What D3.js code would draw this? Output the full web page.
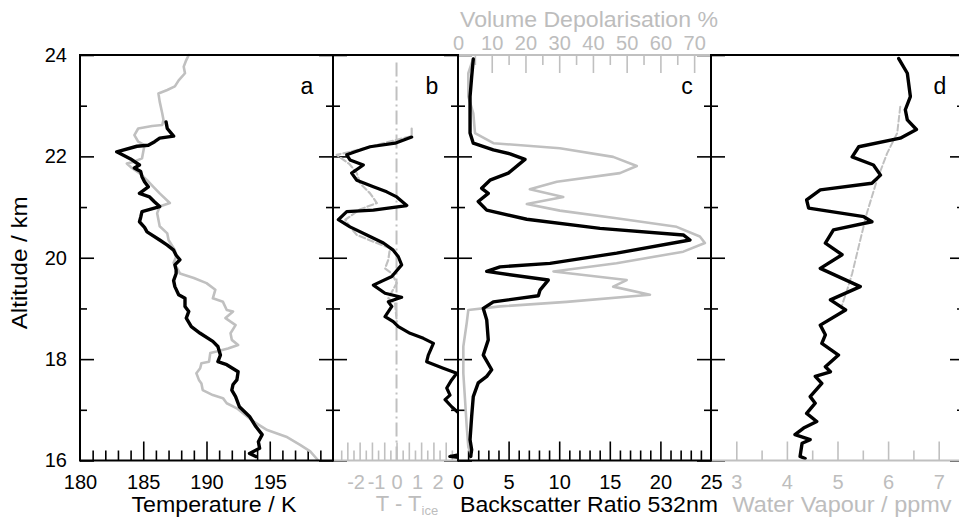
<!DOCTYPE html>
<html>
<head>
<meta charset="utf-8">
<script src="https://cdn.jsdelivr.net/npm/d3@7"></script>
<style>
  html, body { margin: 0; padding: 0; background: #fff; }
  svg { display: block; font-family: "Liberation Sans", Arial, sans-serif; }
</style>
</head>
<body>
<svg id="chart" width="959" height="520"></svg>
<script>
// ---- Altitude axis ----
const altMajor = [16, 18, 20, 22, 24];
const altMinor = [17, 19, 21, 23];

// ---- Panel a: temperature (K) ----
const tempSondeAlt = [22.68, 22.55, 22.40, 22.36, 22.29, 22.22, 22.20, 22.09, 21.95, 21.83, 21.77, 21.70, 21.60, 21.50, 21.40, 21.27, 21.20, 21.10, 21.01, 20.91, 20.80, 20.71, 20.60, 20.51, 20.35, 20.25, 20.15, 20.05, 19.96, 19.86, 19.76, 19.69, 19.55, 19.43, 19.27, 19.20, 19.04, 18.94, 18.81, 18.64, 18.51, 18.35, 18.25, 18.08, 17.95, 17.89, 17.75, 17.59, 17.50, 17.39, 17.26, 17.06, 16.87, 16.67, 16.51, 16.37, 16.24, 16.14, 16.08];
const tempSonde    = [186.8, 186.9, 187.4, 186.3, 185.9, 185.4, 184.5, 182.9, 184.0, 184.7, 184.3, 184.8, 184.9, 185.1, 185.4, 184.7, 185.5, 185.9, 186.3, 184.9, 184.8, 184.7, 185.1, 185.3, 186.3, 186.9, 187.4, 187.6, 187.9, 187.5, 187.6, 187.6, 187.4, 187.5, 187.8, 188.3, 188.3, 188.6, 188.4, 188.8, 189.5, 190.5, 190.9, 191.1, 190.9, 191.6, 192.5, 192.4, 192.1, 192.0, 192.3, 192.6, 193.4, 193.9, 194.4, 194.1, 194.2, 193.4, 193.9];
const tempModelAlt = [24.00, 23.90, 23.77, 23.64, 23.50, 23.38, 23.31, 23.24, 23.08, 22.85, 22.72, 22.62, 22.60, 22.55, 22.42, 22.29, 22.22, 22.09, 21.96, 21.89, 21.86, 21.77, 21.67, 21.53, 21.40, 21.27, 21.08, 21.01, 20.88, 20.62, 20.48, 20.35, 20.15, 20.02, 19.90, 19.83, 19.69, 19.60, 19.50, 19.37, 19.20, 19.13, 18.97, 18.94, 18.81, 18.67, 18.51, 18.38, 18.28, 18.21, 18.15, 18.12, 17.95, 17.92, 17.82, 17.72, 17.59, 17.52, 17.39, 17.29, 17.23, 17.13, 17.03, 16.77, 16.60, 16.47, 16.31, 16.18, 16.01];
const tempModel    = [188.6, 188.4, 188.2, 188.3, 187.8, 187.5, 186.9, 186.2, 186.3, 186.5, 186.6, 186.5, 185.7, 184.6, 184.3, 184.6, 185.1, 185.0, 184.9, 184.2, 183.7, 184.1, 184.7, 185.3, 185.8, 186.3, 187.1, 186.3, 186.1, 186.3, 186.9, 187.0, 187.5, 187.6, 187.4, 187.6, 187.9, 189.0, 190.0, 190.7, 190.5, 191.3, 191.6, 192.1, 191.5, 192.3, 191.9, 192.0, 192.5, 191.7, 190.8, 190.3, 190.2, 189.6, 189.5, 189.2, 189.4, 189.6, 189.7, 190.5, 191.3, 191.6, 192.4, 193.7, 194.8, 196.3, 197.4, 198.2, 198.8];

// ---- Panel b: T - T_ice (K) ----
const dTSondeAlt = [22.38, 22.26, 22.19, 22.09, 22.03, 21.93, 21.83, 21.67, 21.53, 21.40, 21.30, 21.20, 21.03, 20.94, 20.91, 20.75, 20.61, 20.45, 20.29, 20.15, 20.02, 19.86, 19.63, 19.46, 19.30, 19.22, 19.13, 19.04, 18.84, 18.74, 18.64, 18.51, 18.41, 18.31, 18.08, 17.95, 17.82, 17.72, 17.59, 17.43, 17.29, 17.20, 17.06, 16.93, 16.60, 16.30, 16.12, 16.08, 16.04];
const dTSonde    = [0.74, -0.07, -1.29, -2.02, -2.43, -2.27, -1.62, -2.19, -1.94, -1.13, -0.48, 0.01, 0.50, -1.13, -2.43, -2.84, -2.27, -1.45, -0.64, -0.16, 0.09, 0.25, -0.23, -1.13, -0.56, 0.25, -0.40, -0.23, -0.56, -0.16, 0.09, 0.66, 1.31, 1.80, 1.55, 1.47, 2.28, 2.94, 2.69, 2.45, 2.61, 2.37, 2.69, 3.05, 3.6, 3.5, 3.1, 2.6, 3.4];
const dTModelAlt = [22.55, 22.40, 22.19, 22.09, 22.03, 21.85, 21.67, 21.47, 21.27, 21.08, 20.95, 20.75, 20.61, 20.45, 20.29, 20.19, 19.96, 19.79, 19.69, 19.50, 19.20, 19.10, 18.74];
const dTModel    = [0.74, 0.74, -1.29, -2.27, -2.92, -2.3, -1.94, -1.78, -1.29, -0.96, -1.8, -2.5, -2.27, -1.94, -0.96, -0.32, -0.40, -0.56, -0.23, 0.01, -0.40, -0.07, 0.01];

// ---- Panel c: backscatter ratio (532 nm) and volume depolarisation (%) ----
const bsrAlt = [23.92, 23.57, 23.18, 22.78, 22.46, 22.26, 22.13, 22.05, 21.94, 21.67, 21.53, 21.37, 21.27, 21.11, 20.94, 20.76, 20.58, 20.45, 20.35, 20.09, 19.89, 19.82, 19.73, 19.56, 19.36, 19.25, 19.13, 19.00, 18.77, 18.38, 18.08, 17.79, 17.66, 17.53, 17.26, 16.87, 16.41, 16.21, 16.08];
const bsr    = [1.51, 1.35, 1.19, 1.19, 1.19, 1.51, 3.49, 5.14, 6.62, 4.97, 3.16, 2.34, 2.99, 2.00, 2.84, 6.79, 14.03, 22.26, 22.92, 15.68, 9.09, 4.15, 2.84, 8.92, 8.10, 7.94, 3.49, 2.50, 2.84, 2.99, 2.50, 3.33, 2.84, 2.00, 1.51, 1.35, 1.19, 1.35, 1.25];
const depolAlt = [23.93, 23.64, 23.18, 22.85, 22.46, 22.26, 22.16, 21.99, 21.81, 21.67, 21.50, 21.35, 21.20, 21.06, 20.93, 20.78, 20.61, 20.42, 20.29, 20.12, 19.89, 19.73, 19.56, 19.43, 19.27, 19.13, 19.04, 18.97, 18.71, 18.25, 17.72, 17.20, 16.67, 16.27, 16.08];
const depol    = [4.5, 3.06, 3.06, 4.54, 5.04, 10.5, 30.2, 46.0, 53.0, 48.0, 29.3, 21.3, 31.2, 20.4, 30.2, 47.0, 64.8, 71.7, 73.2, 66.8, 47.0, 28.3, 50.0, 46.0, 56.9, 32.2, 12.5, 3.06, 2.58, 1.58, 1.58, 2.08, 2.58, 3.06, 4.0];

// ---- Panel d: water vapour (ppmv) ----
const h2oAlt = [23.93, 23.64, 23.18, 22.92, 22.72, 22.53, 22.36, 22.19, 21.99, 21.83, 21.63, 21.47, 21.34, 21.14, 20.98, 20.81, 20.71, 20.55, 20.29, 20.06, 19.79, 19.43, 19.17, 18.97, 18.67, 18.48, 18.31, 18.08, 17.85, 17.75, 17.66, 17.52, 17.26, 17.13, 16.93, 16.77, 16.64, 16.51, 16.41, 16.34, 16.08, 16.04];
const h2o    = [6.21, 6.38, 6.44, 6.34, 6.38, 6.56, 6.24, 5.42, 5.29, 5.71, 5.85, 5.68, 4.66, 4.39, 4.43, 5.52, 5.68, 4.92, 4.76, 5.09, 4.66, 5.45, 4.86, 5.16, 4.66, 4.76, 4.69, 5.02, 4.76, 4.86, 4.56, 4.69, 4.46, 4.56, 4.39, 4.59, 4.33, 4.16, 4.46, 4.30, 4.26, 4.36];
const h2oIceAlt = [22.98, 22.46, 22.06, 21.53, 20.88, 20.35, 19.69, 19.36, 19.07];
const h2oIce    = [6.24, 6.18, 5.98, 5.78, 5.58, 5.45, 5.29, 5.19, 5.09];

// ---- Tick values ----
const tempMinor = d3.range(181, 200, 1).filter(v => v % 5 !== 0);
const tempMajor = [185, 190, 195];
const tempLabels = [180, 185, 190, 195];
const dTTicks = d3.range(-9, 10).map(i => +(i * 0.3).toFixed(2));
const dTLabels = [-2, -1, 0, 1, 2];
const bsrMinor = d3.range(1, 25).filter(v => v % 5 !== 0);
const bsrMajor = [5, 10, 15, 20];
const bsrLabels = [0, 5, 10, 15, 20, 25];
const depolMinor = [5, 15, 25, 35, 45, 55, 65];
const depolMajor = [10, 20, 30, 40, 50, 60, 70];
const depolLabels = [0, 10, 20, 30, 40, 50, 60, 70];
const h2oMinor = [3.5, 4.5, 5.5, 6.5];
const h2oMajor = [3, 4, 5, 6, 7];

// ---- Styles ----
const BLACK = "#000";
const GREY = "#c0c0c0";
const GREY_TXT = "#bdbdbd";

const svg = d3.select("#chart");
const yTop = 55, yBottom = 460.5;
const y = d3.scaleLinear().domain([16, 24]).range([yBottom, yTop]);

const panels = [
  { x0: 80,  x1: 333 },
  { x0: 333, x1: 458 },
  { x0: 458, x1: 711 },
  { x0: 711, x1: 964 }
];
const xA = d3.scaleLinear().domain([180, 200]).range([panels[0].x0, panels[0].x1]);
const xB = d3.scaleLinear().domain([-3.1, 3]).range([panels[1].x0, panels[1].x1]);
const xC = d3.scaleLinear().domain([0, 25]).range([panels[2].x0, panels[2].x1]);
const xCtop = d3.scaleLinear().domain([0, 75]).range([panels[2].x0, panels[2].x1]);
const xD = d3.scaleLinear().domain([2.5, 7.5]).range([panels[3].x0, panels[3].x1]);

// clip paths per panel
const defs = svg.append("defs");
panels.forEach((p, i) => {
  defs.append("clipPath").attr("id", "clip" + i)
    .append("rect").attr("x", p.x0).attr("y", yTop - 2).attr("width", p.x1 - p.x0).attr("height", yBottom - yTop + 4);
});

function series(alts, vals) { return alts.map((a, i) => ({ a, v: vals[i] })); }

function drawLine(panelIdx, xs, data, color, width, dash) {
  const line = d3.line().x(d => xs(d.v)).y(d => y(d.a));
  svg.append("path")
    .attr("clip-path", `url(#clip${panelIdx})`)
    .attr("d", line(data))
    .attr("fill", "none")
    .attr("stroke", color)
    .attr("stroke-width", width)
    .attr("stroke-linejoin", "round")
    .attr("stroke-linecap", "round")
    .attr("stroke-dasharray", dash || null);
}

function styleAxis(g, color) {
  g.select(".domain").remove();
  g.selectAll(".tick line").attr("stroke", color).attr("stroke-width", 1.6);
  g.selectAll(".tick text").attr("fill", color).attr("font-size", 20);
}

// ---- Vertical (altitude) ticks on each panel edge, pointing inward ----
panels.forEach(p => {
  const gl = svg.append("g").attr("transform", `translate(${p.x0},0)`);
  gl.append("g").call(d3.axisRight(y).tickValues(altMajor).tickSize(14).tickFormat("")).call(styleAxis, BLACK);
  gl.append("g").call(d3.axisRight(y).tickValues(altMinor).tickSize(7).tickFormat("")).call(styleAxis, BLACK);
  const gr = svg.append("g").attr("transform", `translate(${p.x1},0)`);
  gr.append("g").call(d3.axisLeft(y).tickValues(altMajor).tickSize(14).tickFormat("")).call(styleAxis, BLACK);
  gr.append("g").call(d3.axisLeft(y).tickValues(altMinor).tickSize(7).tickFormat("")).call(styleAxis, BLACK);
});

// altitude labels
svg.append("g").attr("transform", `translate(${panels[0].x0},0)`)
  .call(d3.axisLeft(y).tickValues(altMajor).tickSize(0).tickPadding(13).tickFormat(d3.format("d")))
  .call(styleAxis, BLACK);

svg.append("text")
  .attr("transform", `translate(27,${(yTop + yBottom) / 2 + 5}) rotate(-90)`)
  .attr("text-anchor", "middle")
  .attr("font-size", 22)
  .attr("textLength", 133).attr("lengthAdjust", "spacingAndGlyphs")
  .text("Altitude / km");

// ---- Bottom axes ----
function bottomAxis(xs, minor, major, labels, color, minorLen, majorLen, fmt) {
  const g = svg.append("g").attr("transform", `translate(0,${yBottom})`);
  g.append("g").call(d3.axisBottom(xs).tickValues(minor).tickSize(-minorLen).tickFormat("")).call(styleAxis, color);
  g.append("g").call(d3.axisBottom(xs).tickValues(major).tickSize(-majorLen).tickFormat("")).call(styleAxis, color);
  g.append("g").call(d3.axisBottom(xs).tickValues(labels).tickSize(0).tickPadding(14).tickFormat(fmt || d3.format("d"))).call(styleAxis, color === GREY ? GREY_TXT : color);
}
bottomAxis(xA, tempMinor, tempMajor, tempLabels, BLACK, 10, 19);
// panel b: alternating short / long ticks, hyphen-minus labels
bottomAxis(xB,
  dTTicks.filter((v, i) => i % 2 === 0),
  dTTicks.filter((v, i) => i % 2 === 1),
  dTLabels, GREY, 10, 18,
  d => (d < 0 ? "-" + Math.abs(d) : String(d)));
bottomAxis(xC, bsrMinor, bsrMajor, bsrLabels, BLACK, 10, 19);
bottomAxis(xD, h2oMinor, h2oMajor, h2oMajor, GREY, 10, 19);

// ---- Top axis of panel c (depolarisation) ----
{
  const g = svg.append("g").attr("transform", `translate(0,${yTop})`);
  g.append("g").call(d3.axisTop(xCtop).tickValues(depolMinor).tickSize(-10).tickFormat("")).call(styleAxis, GREY);
  g.append("g").call(d3.axisTop(xCtop).tickValues(depolMajor).tickSize(-18).tickFormat("")).call(styleAxis, GREY);
  g.append("g").call(d3.axisTop(xCtop).tickValues(depolLabels).tickSize(0).tickPadding(5).tickFormat(d3.format("d"))).call(styleAxis, GREY_TXT);
}

// ---- Data lines ----
drawLine(0, xA, series(tempModelAlt, tempModel), GREY, 2.6);
drawLine(0, xA, series(tempSondeAlt, tempSonde), BLACK, 3.4);

// zero line in panel b
svg.append("line")
  .attr("x1", xB(0)).attr("x2", xB(0))
  .attr("y1", y(23.85)).attr("y2", yBottom)
  .attr("stroke", GREY).attr("stroke-width", 2)
  .attr("stroke-dasharray", "14,4,2,4");
drawLine(1, xB, series(dTModelAlt, dTModel), GREY, 2.2, "6,3");
drawLine(1, xB, series(dTSondeAlt, dTSonde), BLACK, 3.2);

drawLine(2, xCtop, series(depolAlt, depol), GREY, 2.6);
drawLine(2, xC, series(bsrAlt, bsr), BLACK, 3.4);

drawLine(3, xD, series(h2oIceAlt, h2oIce), GREY, 2, "6,3");
drawLine(3, xD, series(h2oAlt, h2o), BLACK, 3.4);

// ---- Frame ----
function seg(x1, y1, x2, y2, color) {
  svg.append("line").attr("x1", x1).attr("y1", y1).attr("x2", x2).attr("y2", y2)
    .attr("stroke", color).attr("stroke-width", 2);
}
seg(80, yTop, 458, yTop, BLACK);
seg(458, yTop, 711, yTop, GREY);
seg(711, yTop, 959, yTop, BLACK);
seg(80, yBottom, 333, yBottom, BLACK);
seg(333, yBottom, 458, yBottom, GREY);
seg(458, yBottom, 711, yBottom, BLACK);
seg(711, yBottom, 959, yBottom, GREY);
panels.forEach(p => seg(p.x0, yTop - 1, p.x0, yBottom + 1, BLACK));

// ---- Panel letters ----
[["a", 307], ["b", 432], ["c", 687], ["d", 940]].forEach(([t, x]) => {
  svg.append("text").attr("x", x).attr("y", 94).attr("text-anchor", "middle")
    .attr("font-size", 23).attr("fill", BLACK).text(t);
});

// ---- Axis titles ----
function title(x, yy, txt, color, len) {
  return svg.append("text").attr("x", x).attr("y", yy).attr("text-anchor", "middle")
    .attr("font-size", 22).attr("fill", color)
    .attr("textLength", len).attr("lengthAdjust", "spacingAndGlyphs")
    .text(txt);
}
title(214, 512, "Temperature / K", BLACK, 165);
title(589, 512, "Backscatter Ratio 532nm", BLACK, 258);
title(842, 512, "Water Vapour / ppmv", GREY_TXT, 219);
title(589, 27, "Volume Depolarisation %", GREY_TXT, 258);

// T - T_ice
const tt = svg.append("text").attr("x", 407).attr("y", 511).attr("text-anchor", "middle")
  .attr("font-size", 22).attr("fill", GREY_TXT);
tt.append("tspan").text("T - T");
tt.append("tspan").attr("font-size", 13).attr("dy", 4).text("ice");
</script>
</body>
</html>
